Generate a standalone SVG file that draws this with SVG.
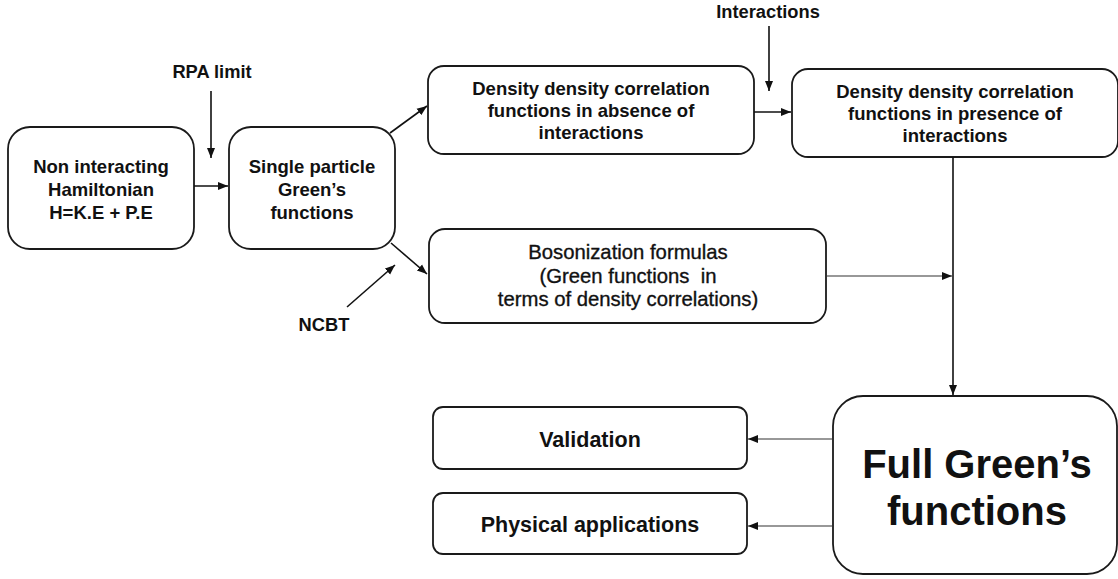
<svg xmlns="http://www.w3.org/2000/svg" width="1118" height="579" viewBox="0 0 1118 579">
<style>
.box{fill:#fff;stroke:#1a1a1a;stroke-width:1.8}
.t{font-family:"Liberation Sans",Arial,sans-serif;font-weight:bold;font-size:18.5px;fill:#111;text-anchor:middle}
.tn{font-family:"Liberation Sans",Arial,sans-serif;font-weight:normal;font-size:20.3px;fill:#111;text-anchor:middle;stroke:#111;stroke-width:0.35}
.c{fill:none;stroke:#111;stroke-width:1.6}
.ct{fill:none;stroke:#333;stroke-width:1.1}
</style>
<defs>
<marker id="ah" viewBox="0 0 10 10" refX="10" refY="5" markerWidth="10" markerHeight="10" markerUnits="userSpaceOnUse" orient="auto">
<path d="M0,1 L10,5 L0,9 Z" fill="#111"/>
</marker>
</defs>
<g id="n1"><rect class="box" x="8" y="127" width="186" height="122" rx="22"/>
<text class="t" x="101" y="173">Non interacting</text>
<text class="t" x="101" y="196">Hamiltonian</text>
<text class="t" x="101" y="219">H=K.E + P.E</text></g>
<g id="n2"><rect class="box" x="229" y="127" width="166" height="122" rx="22"/>
<text class="t" x="312" y="173">Single particle</text>
<text class="t" x="312" y="196">Green’s</text>
<text class="t" x="312" y="219">functions</text></g>
<g id="n3"><rect class="box" x="428" y="66" width="326" height="88" rx="16"/>
<text class="t" x="591" y="95">Density density correlation</text>
<text class="t" x="591" y="117">functions in absence of</text>
<text class="t" x="591" y="139">interactions</text></g>
<g id="n4"><rect class="box" x="792" y="69" width="326" height="88" rx="16"/>
<text class="t" x="955" y="98">Density density correlation</text>
<text class="t" x="955" y="120">functions in presence of</text>
<text class="t" x="955" y="142">interactions</text></g>
<g id="n5"><rect class="box" x="429" y="229" width="397" height="94" rx="16"/>
<text class="tn" x="628" y="259">Bosonization formulas</text>
<text class="tn" x="628" y="283" xml:space="preserve">(Green functions  in</text>
<text class="tn" x="628" y="306">terms of density correlations)</text></g>
<g id="n6"><rect class="box" x="833" y="396" width="284" height="178" rx="30"/>
<text class="t" x="977" y="478" style="font-size:40px">Full Green’s</text>
<text class="t" x="977" y="525" style="font-size:40px">functions</text></g>
<g id="n7"><rect class="box" x="433" y="407" width="314" height="62" rx="10"/>
<text class="t" x="590" y="447" style="font-size:21.5px">Validation</text></g>
<g id="n8"><rect class="box" x="433" y="493" width="314" height="61" rx="10"/>
<text class="t" x="590" y="532" style="font-size:21.5px">Physical applications</text></g>
<g id="labels">
<text class="t" x="212" y="78" style="font-size:18.3px">RPA limit</text>
<text class="t" x="768" y="18" style="font-size:18.3px">Interactions</text>
<text class="t" x="324" y="331" style="font-size:18.3px">NCBT</text>
</g>
<g id="connectors">
<line class="c" x1="194" y1="186" x2="228" y2="186" marker-end="url(#ah)"/>
<line class="c" x1="211" y1="91" x2="211" y2="158" marker-end="url(#ah)"/>
<line class="c" x1="390" y1="133" x2="427" y2="106" marker-end="url(#ah)"/>
<line class="c" x1="391" y1="243" x2="427" y2="274" marker-end="url(#ah)"/>
<line class="c" x1="347" y1="307" x2="395" y2="265" marker-end="url(#ah)"/>
<line class="c" x1="754" y1="112" x2="791" y2="112" marker-end="url(#ah)"/>
<line class="c" x1="769" y1="26" x2="769" y2="91" marker-end="url(#ah)"/>
<line class="c" x1="953" y1="157" x2="953" y2="395" marker-end="url(#ah)"/>
<line class="ct" x1="826" y1="276" x2="952" y2="276" marker-end="url(#ah)"/>
<line class="ct" x1="833" y1="439" x2="748" y2="439" marker-end="url(#ah)"/>
<line class="ct" x1="833" y1="526" x2="748" y2="526" marker-end="url(#ah)"/>
</g>
</svg>
